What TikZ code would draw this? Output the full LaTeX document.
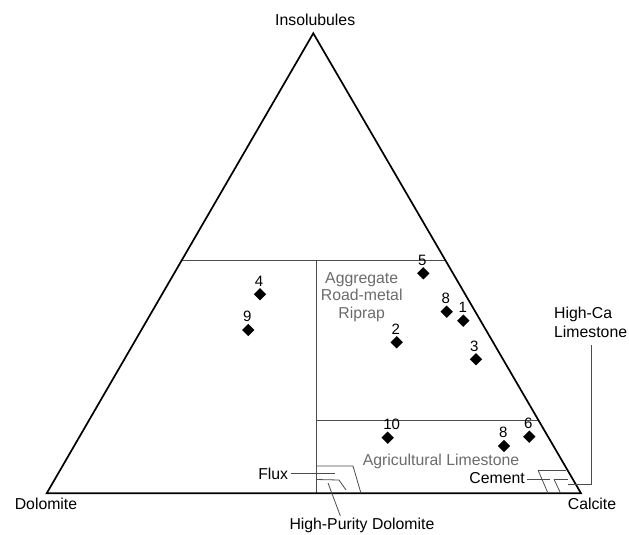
\documentclass[tikz,border=0pt]{standalone}
\usepackage{fontspec}
\setmainfont{Liberation Sans}
\usetikzlibrary{shapes.geometric}
\definecolor{linegray}{gray}{0.3}
\definecolor{textgray}{gray}{0.42}
\tikzset{
	lbl/.style={font=\fontsize{15.8}{18}\selectfont, inner sep=0pt, anchor=base},
	fieldtext/.style={font=\fontsize{15.8}{17.5}\selectfont, inner sep=0pt, text=textgray},
	num/.style={font=\fontsize{15}{17}\selectfont, inner sep=0pt, anchor=base},
	spot/.style={diamond, fill=black, inner sep=0pt, minimum size=12.5pt},
	tri/.style={draw=black, line width=1.7pt, line join=miter},
	field/.style={draw=linegray, line width=0.9pt},
	zone/.style={draw=linegray, line width=0.8pt},
	lead/.style={draw=linegray, line width=0.8pt}
}

\begin{document}
\begin{tikzpicture}[x=1pt,y=-1pt]
			\useasboundingbox (0,0) rectangle (629,535);

			\coordinate (I) at (313.3,33.3);
			\coordinate (D) at (46.7,493.3);
			\coordinate (C) at (581,493.3);

			\node[lbl] (ins) at (315.2,26) {Insolubules};
			\node[lbl] (dol) at (46,509.3) {Dolomite};
			\node[lbl] (cal) at (592,509.3) {Calcite};

			% field boundaries
			\coordinate (L50) at (181.9,260);
			\coordinate (R50) at (445.2,260);
			\coordinate (M50) at (316,260);
			\coordinate (M0) at (316,493.3);
			\coordinate (M15) at (316,420);
			\coordinate (R15) at (538.3,420);

			\draw[field] (L50) -- (R50);
			\draw[field] (M50) -- (M0);
			\draw[field] (M15) -- (R15);

			\draw[tri] (I) -- (D) -- (C) -- cycle;

			\node[fieldtext, align=center, anchor=north] (agg) at (361.7,272.3) {Aggregate\\Road-metal\\Riprap};
			\node[fieldtext, anchor=base west] (agri) at (362.7,465) {Agricultural Limestone};

			% flux and high-purity dolomite
			\draw[zone] (316,466) -- (353,466) -- (361,493.3);
			\draw[zone] (316,479.5) -- (339,480) -- (346,490);

			\node[lbl, anchor=base east] (flux) at (288.3,479) {Flux};
			\node[lbl, anchor=base west] (hpd) at (289.3,529.3) {High-Purity Dolomite};

			\coordinate (fluxend) at (335,473);
			\coordinate (hpdtip) at (328,483);
			\draw[lead, shorten <=3pt] (flux.east |- fluxend) -- (fluxend);
			\draw[lead, shorten >=2pt] (hpdtip) -- ([xshift=51.7pt]hpd.north west);

			% cement and high-ca limestone
			\draw[zone] (538,470) -- (565.5,470);
			\draw[zone] (538,470) -- (548,493.3);
			\draw[zone] (554,479.3) -- (568,479.3);
			\draw[zone] (554,479.3) -- (560,492);

			\node[lbl, anchor=base east] (cem) at (525,483.3) {Cement};
			\node[lbl, align=left, anchor=north west, font=\fontsize{15.8}{18.6}\selectfont] (hc) at (554,307.3) {High-Ca\\Limestone};

			\coordinate (cemend) at (550,479);
			\coordinate (hcstart) at (568,484.5);
			\draw[lead, shorten <=2pt] (cem.east |- cemend) -- (cemend);
			\draw[lead] (hcstart) -| ([xshift=37.5pt,yshift=-7.3pt]hc.south west);

			% samples
			\foreach \x/\y/\t/\dx [count=\i] in {423.3/273.3/5/-1, 260/294.3/4/-1, 446.7/311.7/8/-1, 463.3/320.7/1/-0.6, 248.3/330/9/-1, 396.7/342.3/2/-1, 476/359.3/3/-1.7, 387.7/437.7/10/4, 504/446/8/-0.7, 529.3/436.7/6/-1}
			{
				\node[spot] (s\i) at (\x,\y) {};
				\node[num] (n\i) at (\x+\dx,\y-8.3) {\t};
			}
\end{tikzpicture}
\end{document}
